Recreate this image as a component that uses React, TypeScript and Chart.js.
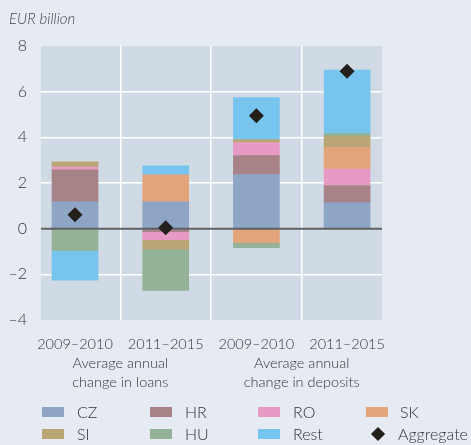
import React, { useEffect, useRef } from 'react';
import { Chart, registerables } from 'chart.js';

Chart.register(...registerables);

const categories = ['2009–2010', '2011–2015', '2009–2010', '2011–2015'];
const groupLabels = [
  ['Average annual', 'change in loans'],
  ['Average annual', 'change in deposits'],
];
const seriesNames = ['CZ', 'HR', 'RO', 'SK', 'SI', 'HU', 'Rest'];
const CZ = [1.18, 1.18, 2.37, 1.14];
const HR = [1.4, -0.13, 0.83, 0.75];
const RO = [0.12, -0.35, 0.57, 0.72];
const SK = [0, 1.18, -0.61, 0.95];
const SI = [0.23, -0.42, 0.13, 0.47];
const HU = [-0.96, -1.8, -0.22, 0.15];
const Rest = [-1.3, 0.39, 1.84, 2.76];
const aggregate = [0.61, 0.04, 4.94, 6.89];
const yTicks = [-4, -2, 0, 2, 4, 6, 8];
const xTicks = [0, 0.5, 1, 1.5, 2, 2.5, 3];

const seriesValues = [CZ, HR, RO, SK, SI, HU, Rest];
const seriesColors = ['#8FA5C5', '#A78287', '#E79AC3', '#E2A47B', '#BAA675', '#93B297', '#77C5EE'];
const aggregateColor = '#231F1A';
const legendRows = [
  ['CZ', 'HR', 'RO', 'SK'],
  ['SI', 'HU', 'Rest', 'Aggregate'],
];

const FONT = 'Lato, "Open Sans", sans-serif';
const WEIGHT = 300;

const decorPlugin = {
  id: 'decor',
  beforeDraw(chart: any) {
    const { ctx, chartArea: a } = chart;
    ctx.save();
    ctx.fillStyle = '#D0DAE5';
    ctx.fillRect(a.left, a.top, a.right - a.left, a.bottom - a.top);
    ctx.restore();
  },
  afterDatasetDraw(chart: any, args: any) {
    if (args.index !== 0) return;
    const { ctx, chartArea: a } = chart;
    const y = chart.scales.y.getPixelForValue(0);
    ctx.save();
    ctx.strokeStyle = '#606060';
    ctx.lineWidth = 2;
    ctx.beginPath();
    ctx.moveTo(a.left, y);
    ctx.lineTo(a.right, y);
    ctx.stroke();
    ctx.restore();
  },
};

export default function App() {
  const ref = useRef<HTMLCanvasElement | null>(null);

  useEffect(() => {
    if (!ref.current) return;
    const datasets: any[] = seriesNames.map((name, i) => ({
      type: 'bar',
      label: name,
      data: seriesValues[i].map((v, j) => ({ x: j, y: v })),
      backgroundColor: seriesColors[i],
      borderWidth: 0,
      barThickness: 46,
      order: 1,
    }));
    datasets.push({
      type: 'scatter',
      label: 'Aggregate',
      data: aggregate.map((v, j) => ({ x: j, y: v })),
      pointStyle: 'rectRot',
      pointRadius: 7.5,
      pointBackgroundColor: aggregateColor,
      pointBorderColor: aggregateColor,
      pointBorderWidth: 0,
      showLine: false,
      stack: 'agg',
      order: -1,
    });

    const chart = new Chart(ref.current, {
      type: 'bar',
      data: { datasets },
      plugins: [decorPlugin],
      options: {
        animation: false,
        responsive: true,
        maintainAspectRatio: false,
        layout: { padding: { left: 0, top: 46, right: 89, bottom: 0 } },
        plugins: { legend: { display: false }, tooltip: { enabled: false } },
        scales: {
          x: {
            type: 'linear',
            stacked: true,
            offset: false,
            min: -0.375,
            max: 3.385,
            afterBuildTicks: (scale: any) => {
              scale.ticks = xTicks.map((value) => ({ value }));
            },
            afterFit: (scale: any) => {
              scale.height = 125;
            },
            border: { display: false },
            grid: {
              offset: false,
              drawTicks: false,
              lineWidth: 1.5,
              color: (ctx: any) =>
                ctx.tick && ctx.tick.value % 1 !== 0 ? '#FFFFFF' : 'rgba(0,0,0,0)',
            },
            ticks: {
              autoSkip: false,
              maxRotation: 0,
              minRotation: 0,
              padding: 15,
              color: '#333333',
              font: { family: FONT, size: 14.5, lineHeight: 1.3, weight: WEIGHT },
              callback: (value: any) => {
                const v = Number(value);
                if (Number.isInteger(v)) return categories[v];
                if (v === 0.5) return ['', ...groupLabels[0]];
                if (v === 2.5) return ['', ...groupLabels[1]];
                return '';
              },
            },
          },
          y: {
            stacked: true,
            min: -4,
            max: 8,
            afterBuildTicks: (scale: any) => {
              scale.ticks = yTicks.map((value) => ({ value }));
            },
            afterFit: (scale: any) => {
              scale.width = 41;
            },
            border: { display: false },
            grid: {
              drawTicks: false,
              lineWidth: 1.5,
              color: (ctx: any) => {
                const v = ctx.tick ? ctx.tick.value : 0;
                return v === 0 || v === 8 || v === -4 ? 'rgba(0,0,0,0)' : '#FFFFFF';
              },
            },
            ticks: {
              padding: 14,
              color: '#333333',
              font: { family: FONT, size: 16, weight: WEIGHT },
              callback: (value: any) => {
                const v = Number(value);
                return v < 0 ? '–' + Math.abs(v) : String(v);
              },
            },
          },
        },
      } as any,
    });
    return () => chart.destroy();
  }, []);

  const colLefts = [42, 150, 258, 366];
  const rowCenters = [412, 434];

  return (
    <div
      style={{
        position: 'fixed',
        left: 0,
        top: 0,
        width: 471,
        height: 445,
        background: '#E6EBF3',
        fontFamily: FONT,
        fontWeight: WEIGHT,
        overflow: 'hidden',
      }}
    >
      <div style={{ position: 'absolute', left: 0, top: 0, width: 471, height: 445 }}>
        <canvas ref={ref} style={{ display: 'block' }} />
      </div>
      <div
        style={{
          position: 'absolute',
          left: 9,
          top: 9,
          fontStyle: 'italic',
          fontSize: 15,
          color: '#444444',
          lineHeight: '18px',
        }}
      >
        EUR billion
      </div>
      {legendRows.map((row, r) =>
        row.map((name, c) => {
          const idx = seriesNames.indexOf(name);
          const cy = rowCenters[r];
          const left = colLefts[c];
          return (
            <div key={name} style={{ position: 'absolute', left: 0, top: 0 }}>
              {idx >= 0 ? (
                <div
                  style={{
                    position: 'absolute',
                    left,
                    top: cy - 5,
                    width: 22,
                    height: 10,
                    background: seriesColors[idx],
                  }}
                />
              ) : (
                <div
                  style={{
                    position: 'absolute',
                    left: left + 7,
                    top: cy - 5,
                    width: 10,
                    height: 10,
                    background: aggregateColor,
                    transform: 'rotate(45deg)',
                  }}
                />
              )}
              <div
                style={{
                  position: 'absolute',
                  left: idx >= 0 ? left + (c === 3 ? 34 : 35) : left + 32,
                  top: cy - 10,
                  fontSize: 16,
                  lineHeight: '20px',
                  color: '#333333',
                  whiteSpace: 'nowrap',
                }}
              >
                {name}
              </div>
            </div>
          );
        })
      )}
    </div>
  );
}
